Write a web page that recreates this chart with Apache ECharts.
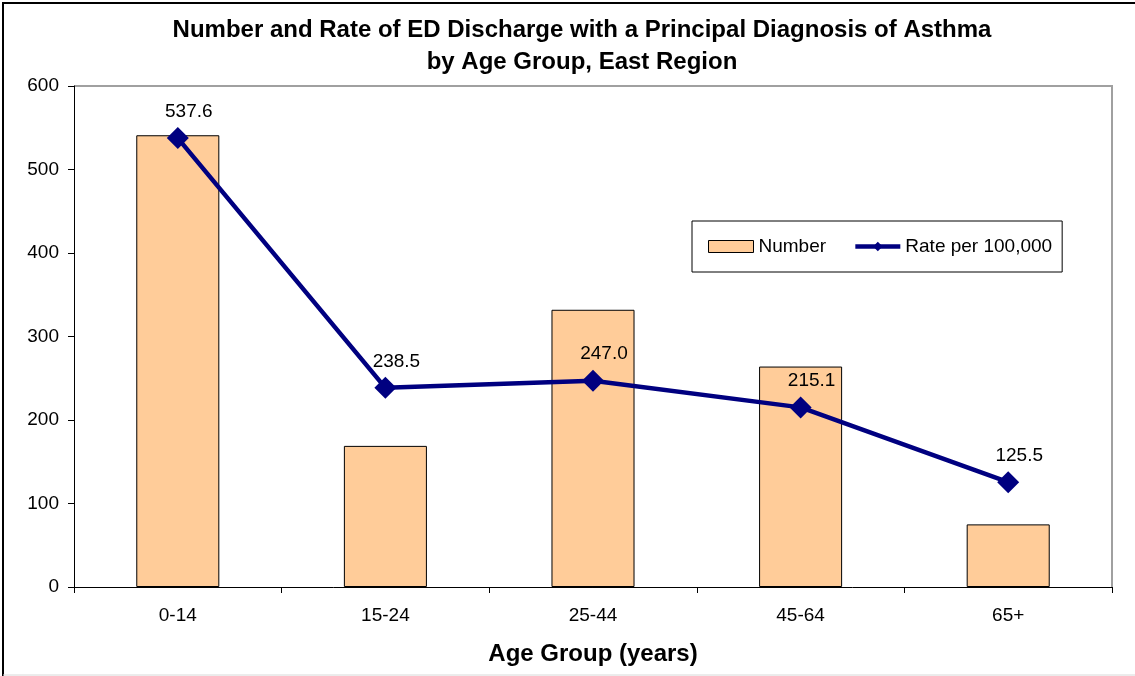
<!DOCTYPE html>
<html>
<head>
<meta charset="utf-8">
<script src="https://cdn.jsdelivr.net/npm/echarts@6/dist/echarts.min.js"></script>
<style>
  html, body { margin: 0; padding: 0; background: #fff; }
  #chart { width: 1135px; height: 676px; }
</style>
</head>
<body>
<div id="chart"></div>
<script>
// age groups and values
const ageGroups = ["0-14", "15-24", "25-44", "45-64", "65+"];
const numberValues = [541, 169, 332, 264, 75];
const rateValues = [537.6, 238.5, 247.0, 215.1, 125.5];

const FONT = "Liberation Sans, Arial, sans-serif";

let chart = echarts.init(document.getElementById("chart"));

chart.setOption({
  animation: false,
  textStyle: { fontFamily: FONT },
  title: {
    text: "Number and Rate of ED Discharge with a Principal Diagnosis of Asthma\nby Age Group, East Region",
    left: 577,
    top: 9,
    textAlign: "center",
    textStyle: { fontSize: 24, fontWeight: "bold", color: "#000", lineHeight: 32.5, fontFamily: FONT }
  },
  graphic: [
    {
      type: "polyline",
      shape: { points: [[3, 676], [3, 3], [1140, 3]] },
      style: { fill: "none", stroke: "#000", lineWidth: 2 },
      silent: true
    },
    {
      type: "line",
      shape: { x1: 3, y1: 675, x2: 1135, y2: 675 },
      style: { stroke: "#d8d8d8", lineWidth: 1 },
      silent: true
    },
    {
      type: "polyline",
      shape: { points: [[74, 86], [1112, 86], [1112, 587]] },
      style: { fill: "none", stroke: "#a0a0a0", lineWidth: 2 },
      silent: true
    }
  ],
  legend: {
    left: 692,
    top: 221,
    padding: [16, 10, 16, 16],
    borderColor: "#000",
    borderWidth: 1,
    itemGap: 27,
    itemWidth: 45,
    itemHeight: 12,
    textStyle: { fontSize: 19, color: "#000", fontFamily: FONT },
    data: [
      { name: "Number", icon: "rect", itemStyle: { borderColor: "#000", borderWidth: 1 } },
      { name: "Rate per 100,000", lineStyle: { width: 4.5 } }
    ]
  },
  grid: { left: 74, right: 23, top: 86, bottom: 89 },
  xAxis: {
    type: "category",
    data: ageGroups,
    name: "Age Group (years)",
    nameLocation: "middle",
    nameGap: 55,
    nameTextStyle: { fontSize: 24, fontWeight: "bold", color: "#000", fontFamily: FONT },
    axisLine: { lineStyle: { color: "#000", width: 1 } },
    axisTick: { show: true, alignWithLabel: false, length: 6, inside: false, lineStyle: { color: "#000" } },
    axisLabel: { fontSize: 19, color: "#000", margin: 19, fontFamily: FONT }
  },
  yAxis: {
    type: "value",
    min: 0,
    max: 600,
    interval: 100,
    axisLine: { show: true, lineStyle: { color: "#000", width: 1 } },
    axisTick: { show: true, length: 6, lineStyle: { color: "#000" } },
    axisLabel: { fontSize: 19, color: "#000", margin: 15, fontFamily: FONT },
    splitLine: { show: false }
  },
  series: [
    {
      name: "Number",
      type: "bar",
      data: numberValues,
      barWidth: "40%",
      itemStyle: { color: "#ffcc99", borderColor: "#000", borderWidth: 1 }
    },
    {
      name: "Rate per 100,000",
      type: "line",
      data: rateValues,
      symbol: "diamond",
      symbolSize: 22,
      lineStyle: { color: "#000080", width: 4.5 },
      itemStyle: { color: "#000080" },
      label: {
        show: true,
        position: "top",
        distance: 6,
        offset: [11, 0],
        fontSize: 19,
        color: "#000",
        fontFamily: FONT,
        formatter: p => p.value.toFixed(1)
      }
    }
  ]
});
</script>
</body>
</html>
